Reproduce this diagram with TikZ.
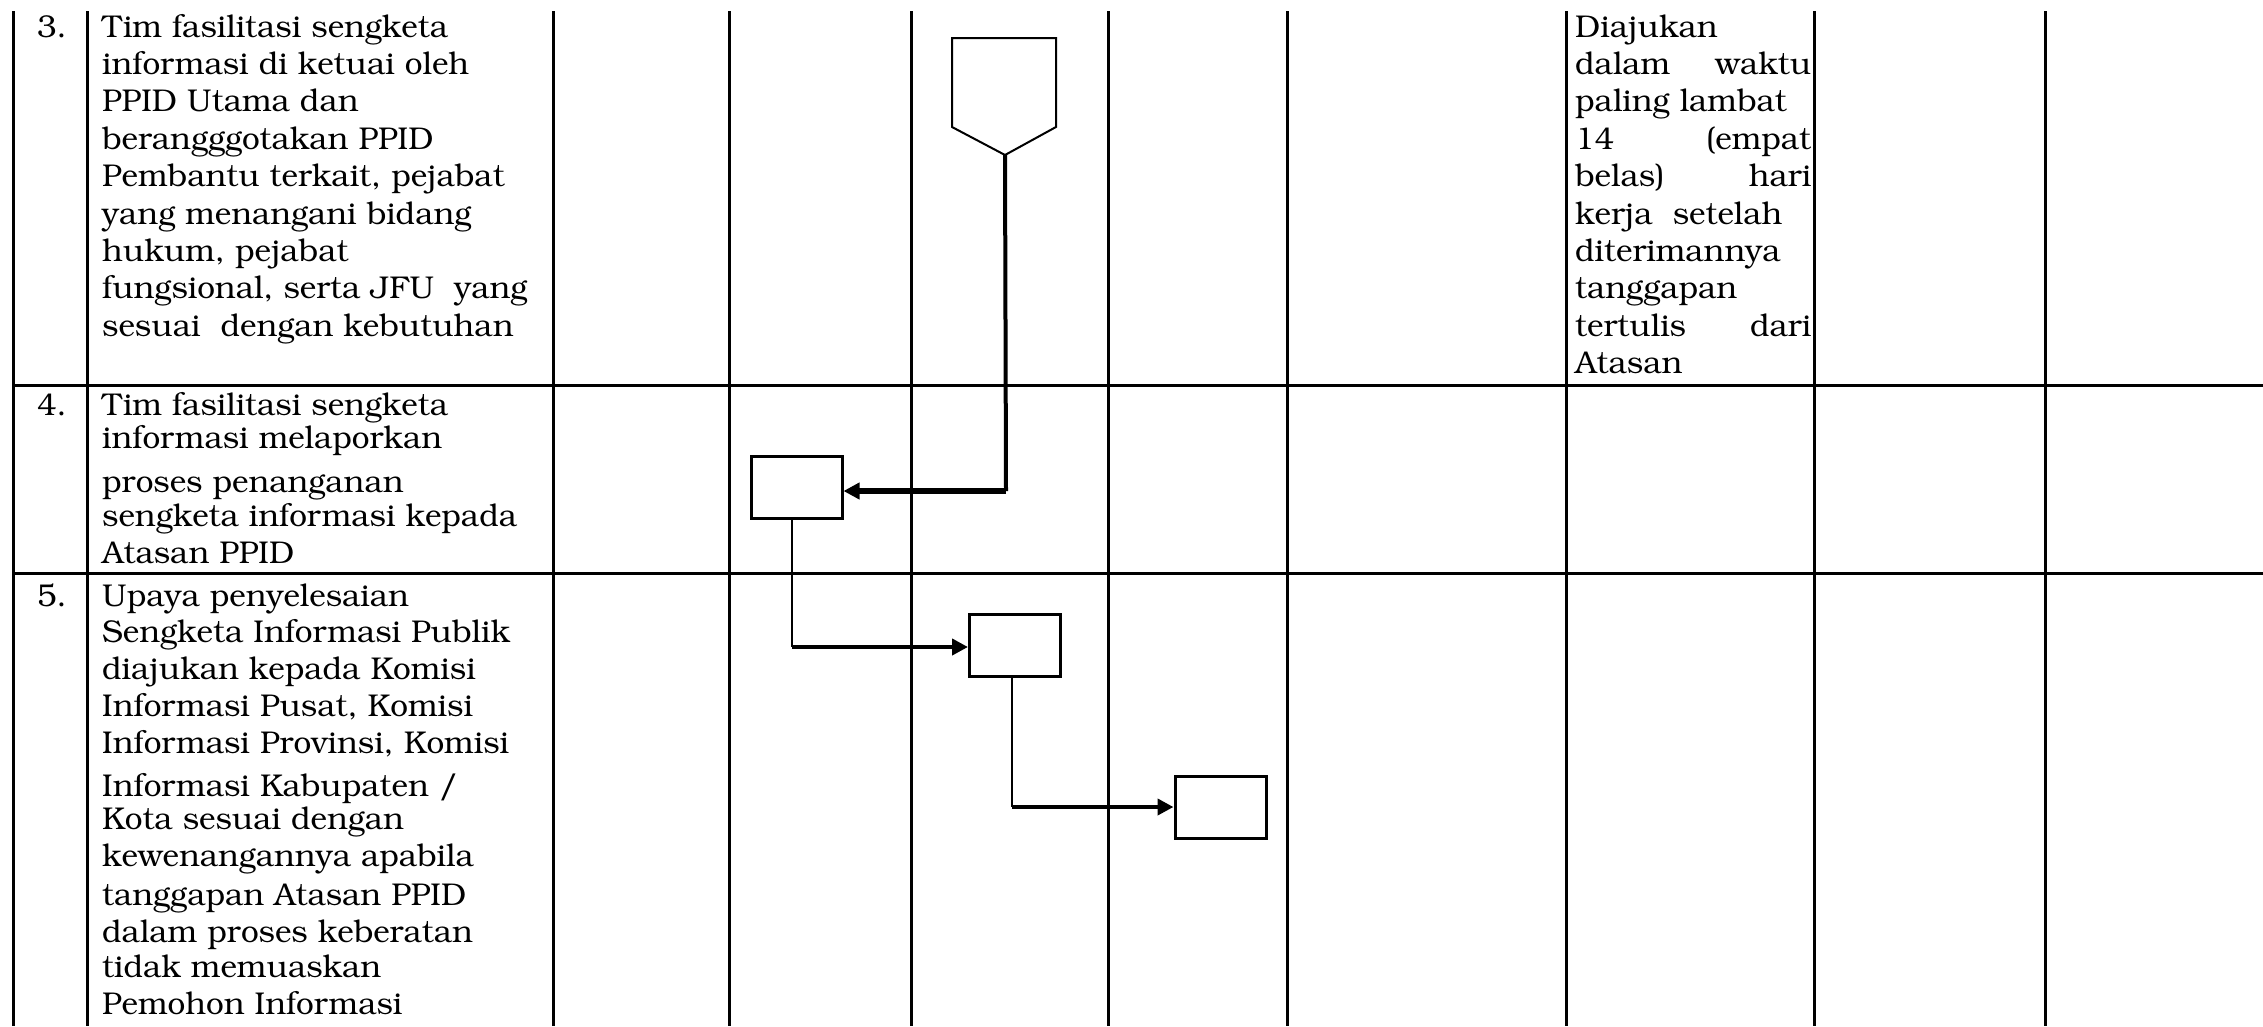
\documentclass[tikz,border=0pt]{standalone}
\usepackage[T1]{fontenc}
\usepackage{bookman}
\usetikzlibrary{arrows.meta}
\newcommand{\bkfont}{\fontsize{31.5}{37.4}\selectfont}
\tikzset{
  gridline/.style={line width=3pt},
  txt/.style={anchor=base west, inner sep=0pt, font=\bkfont},
  num/.style={anchor=base east, inner sep=0pt, font=\bkfont},
  box/.style={draw, line width=3pt, minimum width=91pt, minimum height=62pt, inner sep=0pt},
  vflow/.style={line width=2.8pt},
  hflow/.style={line width=4.5pt, -{Triangle[length=16pt,width=16pt]}},
}
\begin{document}
\begin{tikzpicture}[x=1pt,y=-1pt]
\useasboundingbox (0,0) rectangle (2263,1026);
% table grid
\foreach \gx in {13,87,553,729.5,911,1108.5,1287,1566,1814,2045}
  \draw[gridline] (\gx,11) -- (\gx,1026);
\draw[gridline] (13,385) -- (2263,385);
\draw[gridline] (13,573) -- (2263,573);
% row numbers
\node[num] (n3) at (67,37) {3.};
\node[num] (n4) at (67,415) {4.};
\node[num] (n5) at (67,606) {5.};
% row 3 text
\node[txt] (r3a) at (102,37) {Tim fasilitasi sengketa};
\node[txt] (r3b) at (102,74.4) {informasi di ketuai oleh};
\node[txt] (r3c) at (102,111.8) {PPID Utama dan};
\node[txt] (r3d) at (102,149.2) {berangggotakan PPID};
\node[txt] (r3e) at (102,186.6) {Pembantu terkait, pejabat};
\node[txt] (r3f) at (102,224) {yang menangani bidang};
\node[txt] (r3g) at (102,261.4) {hukum, pejabat};
\node[txt] (r3h) at (102,298.8) {fungsional, serta JFU\ \ yang};
\node[txt] (r3i) at (102,336.2) {sesuai\ \ dengan kebutuhan};
% row 4 text
\node[txt] (r4a) at (102,415) {Tim fasilitasi sengketa};
\node[txt] (r4b) at (102,448) {informasi melaporkan};
\node[txt] (r4c) at (102,492) {proses penanganan};
\node[txt] (r4d) at (102,526) {sengketa informasi kepada};
\node[txt] (r4e) at (102,563) {Atasan PPID};
% row 5 text
\node[txt] (r5a) at (102,606) {Upaya penyelesaian};
\node[txt] (r5b) at (102,642) {Sengketa Informasi Publik};
\node[txt] (r5c) at (102,679) {diajukan kepada Komisi};
\node[txt] (r5d) at (102,716) {Informasi Pusat, Komisi};
\node[txt] (r5e) at (102,753) {Informasi Provinsi, Komisi};
\node[txt] (r5f) at (102,796) {Informasi Kabupaten /};
\node[txt] (r5g) at (102,829) {Kota sesuai dengan};
\node[txt] (r5h) at (102,866) {kewenangannya apabila};
\node[txt] (r5i) at (102,905) {tanggapan Atasan PPID};
\node[txt] (r5j) at (102,942) {dalam proses keberatan};
\node[txt] (r5k) at (102,977) {tidak memuaskan};
\node[txt] (r5l) at (102,1014) {Pemohon Informasi};
% right column text
\node[txt] (ka) at (1575,37) {Diajukan};
\node[txt] (kb) at (1575,74.4) {\hbox to 236pt{dalam\hfill waktu}};
\node[txt] (kc) at (1575,111.8) {paling lambat};
\node[txt] (kd) at (1575,149.2) {\hbox to 236pt{14\hfill (empat}};
\node[txt] (ke) at (1575,186.6) {\hbox to 236pt{belas)\hfill hari}};
\node[txt] (kf) at (1575,224) {kerja\ \ setelah};
\node[txt] (kg) at (1575,261.4) {diterimannya};
\node[txt] (kh) at (1575,298.8) {tanggapan};
\node[txt] (ki) at (1575,336.2) {\hbox to 236pt{tertulis\hfill dari}};
\node[txt] (kj) at (1575,373.6) {Atasan};
% off-page connector
\draw[line width=2pt] (952,38) -- (1056,38) -- (1056,127) -- (1005,155) -- (952,127) -- cycle;
\coordinate (pentip) at (1005,155);
% process boxes
\node[box] (b1) at (796.5,487.3) {};
\node[box] (b2) at (1015,645) {};
\node[box] (b3) at (1220.5,807.5) {};
% connectors
\coordinate (c1) at (1006,491);
\draw[line width=4pt] (pentip) -- (c1);
\draw[hflow, line width=5.5pt] (c1) -- (c1 -| b1.east);
\coordinate (c2) at (792,647);
\draw[vflow] (c2 |- b1.south) -- (c2);
\draw[hflow] (c2) -- (c2 -| b2.west);
\coordinate (c3) at (1012,807);
\draw[vflow] (c3 |- b2.south) -- (c3);
\draw[hflow] (c3) -- (c3 -| b3.west);
\end{tikzpicture}
\end{document}
